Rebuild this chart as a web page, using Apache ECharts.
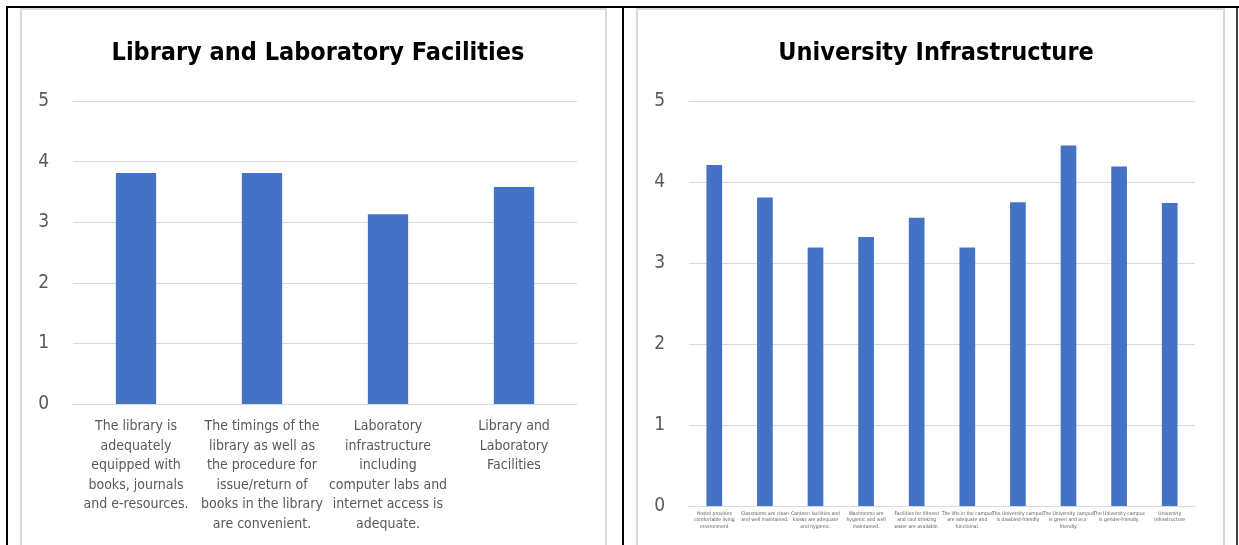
<!DOCTYPE html>
<html>
<head>
<meta charset="utf-8">
<script src="https://cdn.jsdelivr.net/npm/echarts@6/dist/echarts.min.js"></script>
<style>
  html, body { margin: 0; padding: 0; background: #fff; }
  #chart { width: 1239px; height: 545px; }
</style>
</head>
<body>
<div id="chart"></div>
<script>
// left panel
const libCategories = [
  'The library is\nadequately\nequipped with\nbooks, journals\nand e-resources.',
  'The timings of the\nlibrary as well as\nthe procedure for\nissue/return of\nbooks in the library\nare convenient.',
  'Laboratory\ninfrastructure\nincluding\ncomputer labs and\ninternet access is\nadequate.',
  'Library and\nLaboratory\nFacilities'
];
const libValues = [3.81, 3.81, 3.13, 3.58];

// right panel
const infraCategories = [
  'Hostel provides\ncomfortable living\nenvironment',
  'Classrooms are clean\nand well maintained.',
  'Canteen facilities and\nkiosks are adequate\nand hygienic.',
  'Washrooms are\nhygienic and well\nmaintained.',
  'Facilities for filtered\nand cool drinking\nwater are available.',
  'The lifts in the campus\nare adequate and\nfunctional.',
  'The University campus\nis disabled-friendly',
  'The University campus\nis green and eco-\nfriendly.',
  'The University campus\nis gender-friendly.',
  'University\nInfrastructure'
];
const infraValues = [4.21, 3.81, 3.19, 3.32, 3.56, 3.19, 3.75, 4.45, 4.19, 3.74];

const yTicks = [0, 1, 2, 3, 4, 5];

const FONT = '"Liberation Sans Narrow", "DejaVu Sans Condensed", sans-serif';
const BAR = '#4472c4';
const GRID = '#d9d9d9';
const LABEL = '#595959';

const myChart = echarts.init(document.getElementById('chart'));

function yAxisOf(idx) {
  return {
    type: 'value',
    gridIndex: idx,
    min: yTicks[0],
    max: yTicks[yTicks.length - 1],
    interval: 1,
    axisLine: { show: false },
    axisTick: { show: false },
    splitLine: { lineStyle: { color: GRID, width: 1 } },
    axisLabel: { color: LABEL, fontSize: 19, fontFamily: FONT, margin: 24 }
  };
}

const option = {
  animation: false,
  backgroundColor: '#fff',
  title: [
    {
      text: 'Library and Laboratory Facilities',
      left: 313, top: 36, textAlign: 'center',
      textStyle: { fontSize: 25, fontWeight: 'bold', color: '#000', fontFamily: FONT }
    },
    {
      text: 'University Infrastructure',
      left: 931, top: 36, textAlign: 'center',
      textStyle: { fontSize: 25, fontWeight: 'bold', color: '#000', fontFamily: FONT }
    }
  ],
  grid: [
    { left: 73, top: 101, width: 504, height: 303 },
    { left: 689, top: 101, width: 506, height: 405 }
  ],
  xAxis: [
    {
      type: 'category', gridIndex: 0, data: libCategories,
      axisLine: { lineStyle: { color: GRID } },
      axisTick: { show: false },
      axisLabel: { interval: 0, color: LABEL, fontSize: 14, lineHeight: 19.5, fontFamily: FONT, margin: 13 }
    },
    {
      type: 'category', gridIndex: 1, data: infraCategories,
      axisLine: { lineStyle: { color: GRID } },
      axisTick: { show: false },
      axisLabel: { interval: 0, color: LABEL, fontSize: 5, lineHeight: 6.5, fontFamily: FONT, margin: 4 }
    }
  ],
  yAxis: [yAxisOf(0), yAxisOf(1)],
  series: [
    {
      type: 'bar', xAxisIndex: 0, yAxisIndex: 0, data: libValues,
      barWidth: '32%', itemStyle: { color: BAR }
    },
    {
      type: 'bar', xAxisIndex: 1, yAxisIndex: 1, data: infraValues,
      barWidth: '31%', itemStyle: { color: BAR }
    }
  ],
  graphic: [
    // chart frames
    { type: 'rect', shape: { x: 21, y: 9, width: 585, height: 560 }, style: { fill: 'none', stroke: GRID, lineWidth: 2 }, z: -1 },
    { type: 'rect', shape: { x: 637, y: 9, width: 587, height: 560 }, style: { fill: 'none', stroke: GRID, lineWidth: 2 }, z: -1 },
    // table lines
    { type: 'line', shape: { x1: 6, y1: 7, x2: 1239, y2: 7 }, style: { stroke: '#000', lineWidth: 2 } },
    { type: 'line', shape: { x1: 7, y1: 6, x2: 7, y2: 545 }, style: { stroke: '#000', lineWidth: 2 } },
    { type: 'line', shape: { x1: 623, y1: 6, x2: 623, y2: 545 }, style: { stroke: '#000', lineWidth: 2 } },
    { type: 'line', shape: { x1: 1237, y1: 6, x2: 1237, y2: 545 }, style: { stroke: '#000', lineWidth: 1.5 } }
  ]
};

myChart.setOption(option);
window.addEventListener('resize', () => myChart.resize());
</script>
</body>
</html>
